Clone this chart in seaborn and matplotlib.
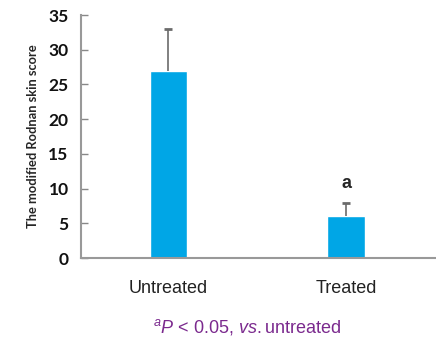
import matplotlib
matplotlib.use("Agg")
import matplotlib.pyplot as plt
import seaborn as sns
import pandas as pd

# data
groups = ["Untreated", "Treated"]
scores = [27, 6]
sd_upper = [6, 2]
y_ticks = [0, 5, 10, 15, 20, 25, 30, 35]

df = pd.DataFrame({"group": groups, "score": scores})

sns.set_theme(style="white")
plt.rcParams["font.family"] = ["Liberation Sans", "DejaVu Sans"]
plt.rcParams["mathtext.fontset"] = "custom"
plt.rcParams["mathtext.rm"] = "Liberation Sans"
plt.rcParams["mathtext.it"] = "Liberation Sans:italic"

fig = plt.figure(figsize=(4.36, 3.41), dpi=100)
ax = fig.add_axes([0.186, 0.243, 0.812, 0.713])

sns.barplot(data=df, x="group", y="score", color="#00A6E6", saturation=1,
            width=0.21, ax=ax)
eb = ax.errorbar(range(len(groups)), scores, yerr=[[0] * len(groups), sd_upper],
                 fmt="none", ecolor="#6b6b6b", elinewidth=1.2, capsize=3,
                 capthick=2)
# only the upper cap is shown
eb[1][0].set_visible(False)

ax.set_xlim(-0.49, 1.5)
ax.set_ylim(0, 35)
ax.set_yticks(y_ticks)
ax.set_yticklabels([str(t) for t in y_ticks], fontfamily="Lato",
                   fontweight="bold", fontsize=12.5, color="#111111")
for lab in ax.get_xticklabels():
    lab.set_fontsize(13)
    lab.set_color("#222222")
ax.tick_params(axis="y", direction="in", length=5, width=1, color="#888888",
               left=True, pad=9)
ax.tick_params(axis="x", bottom=False, pad=10)
ax.set_xlabel("")
ax.set_ylabel("The modified Rodnan skin score", fontfamily="Lato",
              fontweight="bold", fontsize=9.3, labelpad=7)

for side in ["top", "right"]:
    ax.spines[side].set_visible(False)
for side in ["left", "bottom"]:
    ax.spines[side].set_color("#999999")
    ax.spines[side].set_linewidth(1.5)

ax.text(1, scores[1] + sd_upper[1] + 1.5, "a", ha="center", va="bottom",
        fontsize=13, fontweight="bold")

fig.text(0.567, 0.04, r"$^{a}\mathit{P}$ < 0.05, $\mathit{vs.}$untreated",
         ha="center", va="center", fontsize=13, color="#7B2A8E")

fig.savefig("out.png", dpi=100)
